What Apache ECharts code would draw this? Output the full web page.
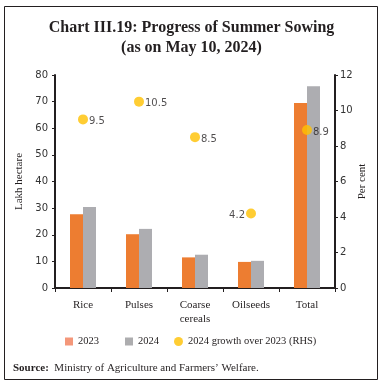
<!DOCTYPE html>
<html><head><meta charset="utf-8">
<script src="https://cdn.jsdelivr.net/npm/echarts@6/dist/echarts.min.js"></script>
<style>html,body{margin:0;padding:0;background:#fff}#c{width:383px;height:386px}</style>
</head><body><div id="c"></div>
<script>
const categories = ['Rice', 'Pulses', 'Coarse\ncereals', 'Oilseeds', 'Total'];
const area2023 = [27.7, 20.2, 11.5, 9.8, 69.5];
const area2024 = [30.4, 22.2, 12.5, 10.2, 75.8];
const growth = [9.5, 10.5, 8.5, 4.2, 8.9];
const leftTicks = [0, 80, 10];
const rightTicks = [0, 12, 2];

const serif = '"Liberation Serif", "DejaVu Serif", serif';
const sans = '"DejaVu Sans", Verdana, sans-serif';
const legendText = {fontFamily: serif, fontSize: 10.5, color: '#231f20'};
const chart = echarts.init(document.getElementById('c'), null, {renderer: 'canvas'});
chart.setOption({
  animation: false,
  backgroundColor: '#fff',
  title: {
    text: 'Chart III.19: Progress of Summer Sowing\n(as on May 10, 2024)',
    left: 'center', top: 13,
    textStyle: {fontFamily: serif, fontSize: 16, fontWeight: 'bold', color: '#231f20', lineHeight: 20}
  },
  legend: [
    {left: 65, top: 336, padding: 0, itemWidth: 8, itemHeight: 8, itemGap: 0, textStyle: legendText,
     data: [{name: '2023', icon: 'rect', itemStyle: {color: '#F4977A'}}]},
    {left: 125, top: 336, padding: 0, itemWidth: 8, itemHeight: 8, itemGap: 0, textStyle: legendText,
     data: [{name: '2024', icon: 'rect', itemStyle: {color: '#ADADAF'}}]},
    {left: 174, top: 336, padding: 0, itemWidth: 9, itemHeight: 9, itemGap: 0, textStyle: legendText,
     data: [{name: '2024 growth over 2023 (RHS)', icon: 'circle', itemStyle: {color: '#FFC000'}}]}
  ],
  grid: {left: 55, right: 48, top: 75, bottom: 98, containLabel: false},
  xAxis: {
    type: 'category', data: categories,
    axisLine: {lineStyle: {color: '#231f20', width: 2}},
    axisTick: {show: true, alignWithLabel: false, length: 4, lineStyle: {color: '#231f20'}},
    axisLabel: {fontFamily: serif, fontSize: 11, color: '#231f20', margin: 10, lineHeight: 14}
  },
  yAxis: [
    {
      type: 'value', min: leftTicks[0], max: leftTicks[1], interval: leftTicks[2],
      name: 'Lakh hectare', nameLocation: 'middle', nameGap: 26, nameRotate: 90,
      nameTextStyle: {fontFamily: serif, fontSize: 11, color: '#231f20'},
      axisLine: {show: true, lineStyle: {color: '#231f20', width: 2}},
      axisTick: {show: true, length: 3, lineStyle: {color: '#231f20'}},
      splitLine: {show: false},
      axisLabel: {fontFamily: sans, fontSize: 10, color: '#333', margin: 7}
    },
    {
      type: 'value', min: rightTicks[0], max: rightTicks[1], interval: rightTicks[2],
      name: 'Per cent', nameLocation: 'middle', nameGap: 22, nameRotate: 90, nameMoveOverlap: false,
      nameTextStyle: {fontFamily: serif, fontSize: 11, color: '#231f20'},
      axisLine: {show: true, lineStyle: {color: '#231f20', width: 2}},
      axisTick: {show: true, length: 3, lineStyle: {color: '#231f20'}},
      splitLine: {show: false},
      axisLabel: {fontFamily: sans, fontSize: 10, color: '#333', margin: 5}
    }
  ],
  series: [
    {name: '2023', type: 'bar', data: area2023, barWidth: 13, barGap: '0%',
     itemStyle: {color: '#ED7D31'}},
    {name: '2024', type: 'bar', data: area2024, barWidth: 13, barGap: '0%',
     itemStyle: {color: '#ADADB1'}},
    {name: '2024 growth over 2023 (RHS)', type: 'scatter', yAxisIndex: 1,
     data: growth.map((v, i) => ({value: v, label: {position: i === 3 ? 'left' : 'right'}})),
     symbolSize: 10, itemStyle: {color: '#FFC000'},
     label: {show: true, position: 'right', distance: 1, offset: [0, 2], formatter: p => p.value.toFixed(1),
       fontFamily: sans, fontSize: 10, color: '#231f20'}}
  ],
  graphic: [
    {type: 'rect', shape: {x: 4.5, y: 6.5, width: 373, height: 373},
     style: {fill: 'none', stroke: '#231f20', lineWidth: 1}},
    {type: 'text', left: 13, top: 363,
     style: {text: '{b|Source:}  Ministry of Agriculture and Farmers\u2019 Welfare.',
       fontFamily: serif, fontSize: 11, fill: '#231f20',
       rich: {b: {fontFamily: serif, fontSize: 11, fontWeight: 'bold', fill: '#231f20'}}}}
  ]
});
</script></body></html>
